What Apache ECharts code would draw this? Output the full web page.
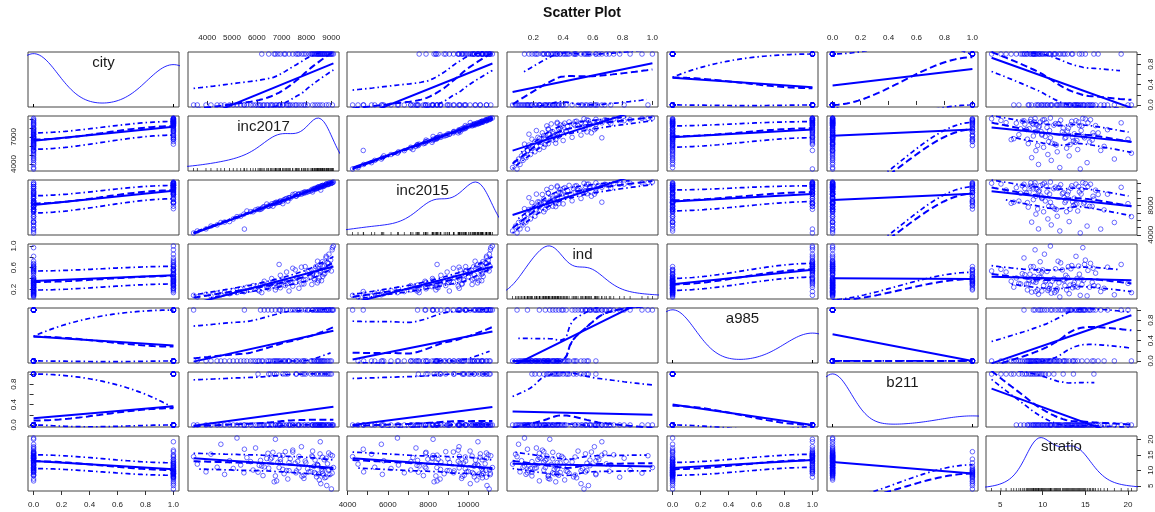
<!DOCTYPE html>
<html><head><meta charset="utf-8">
<script src="https://cdn.jsdelivr.net/npm/echarts@6/dist/echarts.min.js"></script>
<style>html,body{margin:0;padding:0;background:#fff}#c{width:1155px;height:512px}</style>
</head><body><div id="c"></div>
<script>
// ---------------- data (one entry per observation) ----------------
const city = [1,1,1,1,1,1,1,1,1,1,1,1,1,1,
  0,0,0,0,0,0,0,0,0,0,0,0,0,0,0,0,0,0,0,0,0,0,0,0,0,0,
  1,1,1,1,1,1,1,1,1,1,1,1,1,1,1,1,1,
  0,0,0,0,0,0,0,
  1,1,1,1,1,1,1,1,1,1,1,1,1,1,1,
  0,0,0,0,0,0,0,0,0,0,0,0,0,0,0,0,0,0,0,0,0];
const inc2017 = [7650,8100,8250,8380,8470,8560,8640,8720,8790,8850,8910,8980,9040,9090,
  3450,5500,6150,6300,6450,6600,6750,6950,7050,7200,7350,7450,7550,7700,7800,7950,8050,6900,8250,8350,8450,8550,8650,8800,8900,9050,
  6480,7150,7580,7820,7980,6700,8180,8300,8410,8490,8580,8660,8740,8820,8880,8950,9010,
  6050,6550,6800,7050,7250,7600,7900,
  6200,6750,6950,7300,7450,7700,7900,6850,7100,8220,8330,8440,8520,8610,8700,
  3600,3950,4150,4400,4550,4700,4900,5050,5200,5350,5480,5600,5750,5850,5950,6100,6250,6400,6650,6900,7300];
const inc2015 = [9500,9920,9850,10270,10510,10480,10720,10690,10900,10840,11050,10990,11100,11200,
  4250,4780,7480,7850,7880,8220,8250,8640,8250,8950,8990,9260,9600,9560,9540,9870,9850,8450,10090,10360,10340,10600,10590,10910,10900,11120,
  7900,8880,9270,9700,9760,8300,10010,10290,10300,10530,10100,10740,10700,10930,10880,11090,11040,
  7520,7990,8450,8620,8600,9300,9800,
  7560,8390,8500,9060,9500,9550,9670,8400,8800,10190,10200,10460,10430,10670,10650,
  4520,4800,5190,5350,5680,5730,5800,6160,6480,6530,6820,7250,7150,7140,7400,7450,7770,8200,7900,8440,9070];
const ind = [0.42,0.55,0.48,0.62,0.58,0.66,0.71,0.64,0.78,0.69,0.85,0.74,0.93,1.00,
  0.09,0.16,0.28,0.35,0.24,0.40,0.31,0.46,0.37,0.52,0.33,0.59,0.56,0.39,0.61,0.62,0.53,0.66,0.50,0.58,0.72,0.55,0.63,0.81,0.68,0.97,
  0.21,0.27,0.33,0.30,0.38,0.35,0.43,0.40,0.47,0.36,0.52,0.44,0.49,0.57,0.56,0.62,0.54,
  0.19,0.29,0.24,0.34,0.31,0.42,0.37,
  0.14,0.19,0.23,0.17,0.26,0.22,0.30,0.27,0.34,0.29,0.38,0.32,0.41,0.36,0.48,
  0.06,0.11,0.08,0.13,0.10,0.15,0.12,0.18,0.14,0.21,0.16,0.24,0.19,0.27,0.22,0.17,0.30,0.25,0.33,0.28,0.36];
const a985 = [1,1,1,1,1,1,1,1,1,1,1,1,1,1,
  1,1,1,1,1,1,1,1,1,1,1,1,1,1,1,1,1,1,1,1,1,1,1,1,1,1,
  0,0,0,0,0,0,0,0,0,0,0,0,0,0,0,0,0,
  0,0,0,0,0,0,0,
  0,0,0,0,0,0,0,0,0,0,0,0,0,0,0,
  0,0,0,0,0,0,0,0,0,0,0,0,0,0,0,0,0,0,0,0,0];
const b211 = [0,0,0,0,0,0,0,0,0,0,0,0,0,0,
  0,0,0,0,0,0,0,0,0,0,0,0,0,0,0,0,0,0,0,0,0,0,0,0,0,0,
  1,1,1,1,1,1,1,1,1,1,1,1,1,1,1,1,1,
  1,1,1,1,1,1,1,
  0,0,0,0,0,0,0,0,0,0,0,0,0,0,0,
  0,0,0,0,0,0,0,0,0,0,0,0,0,0,0,0,0,0,0,0,0];
const stratio = [12.9,9.5,14.3,8.9,11.5,19.2,9.7,13.4,7.8,12.1,10.2,15.0,9.1,10.9,
  14.4,16.8,13.2,11.1,15.5,14.0,20.0,12.7,14.8,9.9,13.7,15.9,12.3,14.5,17.6,13.0,10.5,14.9,16.2,13.3,11.8,15.3,14.2,13.9,15.6,14.7,
  10.7,16.0,9.2,8.1,12.4,6.3,9.6,11.3,7.9,8.8,5.7,9.0,7.6,5.1,10.0,8.6,4.0,
  9.4,13.6,6.6,10.3,7.2,9.8,8.4,
  11.4,8.2,13.5,9.9,16.5,10.8,7.4,12.6,8.9,14.6,9.3,11.9,6.9,10.4,8.5,
  12.0,9.5,15.2,11.0,18.4,8.7,13.1,10.6,20.4,11.7,9.2,14.1,12.8,10.1,17.2,11.6,8.3,13.8,15.8,10.9,12.5];

const varNames = ['city','inc2017','inc2015','ind','a985','b211','stratio'];
// tick marks and tick labels (horizontal axes / vertical axes)
const ticksCity = [0,0.2,0.4,0.6,0.8,1.0];
const ticksInc2017 = [4000,5000,6000,7000,8000,9000];
const ticksInc2015 = [4000,5000,6000,7000,8000,9000,10000,11000];
const ticksInd = [0.2,0.4,0.6,0.8,1.0];
const ticksStratio = [5,10,15,20];
const hLabInc2015 = [4000,6000,8000,10000];
const vLabBinary = [0,0.4,0.8];
const vLabInc2017 = [4000,7000];
const vLabInc2015 = [4000,8000];
const vLabInd = [0.2,0.6,1.0];

const vars = [city, inc2017, inc2015, ind, a985, b211, stratio];
const ticks = [ticksCity, ticksInc2017, ticksInc2015, ticksInd, ticksCity, ticksCity, ticksStratio];
const hLabels = [ticksCity, ticksInc2017, hLabInc2015, ticksInd, ticksCity, ticksCity, ticksStratio];
const vLabels = [vLabBinary, vLabInc2017, vLabInc2015, vLabInd, vLabBinary, vLabBinary, ticksStratio];
const decimals = [1,0,0,1,1,1,0];

// ---------------- statistics helpers ----------------
function median(a){const s=a.slice().sort((p,q)=>p-q);const n=s.length;return n%2?s[(n-1)/2]:(s[n/2-1]+s[n/2])/2;}
function bisq(res){
  const cmad=6*median(res.map(Math.abs));
  if(cmad<1e-300) return res.map(()=>1);
  return res.map(r=>{const a=Math.abs(r);if(a>0.999*cmad)return 0;if(a>0.001*cmad){const u=r/cmad;return (1-u*u)*(1-u*u);}return 1;});
}
function localFit(x0,xs,ys,rw,span,degree){
  const n=xs.length;const q=Math.max(1,Math.min(n,Math.floor(n*span)));
  const d=xs.map(x=>Math.abs(x-x0));
  const h=d.slice().sort((a,b)=>a-b)[q-1];
  if(!(h>0)) return [0,0];
  let sw=0,sx=0,sy=0;const w=new Array(n);
  for(let k=0;k<n;k++){const u=d[k]/h;const t=u<1?(1-u*u*u):0;w[k]=rw[k]*t*t*t;sw+=w[k];sx+=w[k]*xs[k];sy+=w[k]*ys[k];}
  if(!(sw>0)) return [0,0];
  const mx=sx/sw,my=sy/sw;
  if(degree===0) return [my,0];
  let sxx=0,sxy=0;
  for(let k=0;k<n;k++){const dx=xs[k]-mx;sxx+=w[k]*dx*dx;sxy+=w[k]*dx*(ys[k]-my);}
  if(sxx<=1e-10*sw*h*h) return [my,0];
  const b=sxy/sxx;return [my+b*(x0-mx),b];
}
function makeSurface(xs,ys,rw,span,degree){
  const mn=Math.min(...xs),mx=Math.max(...xs);
  const uniq=new Set(xs).size;
  const mu=0.005*Math.max(mx-mn,1e-10*Math.max(Math.abs(mn),Math.abs(mx))+1e-30);
  const v0=mn-mu,v1=mx+mu;
  if(uniq<=2){
    const A=localFit(v0,xs,ys,rw,span,degree),B=localFit(v1,xs,ys,rw,span,degree);
    const L=v1-v0;
    return x=>{if(x<v0-1e-12||x>v1+1e-12)return NaN;const t=(x-v0)/L,t2=t*t,t3=t2*t;
      return (2*t3-3*t2+1)*A[0]+(t3-2*t2+t)*L*A[1]+(-2*t3+3*t2)*B[0]+(t3-t2)*L*B[1];};
  }
  return x=>(x<v0||x>v1)?NaN:localFit(x,xs,ys,rw,span,degree)[0];
}
function loessFull(xs,ys,span,degree,iters){
  let rw=xs.map(()=>1),surf,res;
  for(let it=0;it<iters;it++){
    surf=makeSurface(xs,ys,rw,span,degree);
    res=ys.map((y,k)=>y-surf(xs[k]));
    if(it<iters-1) rw=bisq(res);
  }
  return {surf,res};
}
function lmFit(xs,ys){
  const n=xs.length;const mx=xs.reduce((a,b)=>a+b,0)/n,my=ys.reduce((a,b)=>a+b,0)/n;
  let sxx=0,sxy=0;for(let k=0;k<n;k++){sxx+=(xs[k]-mx)**2;sxy+=(xs[k]-mx)*(ys[k]-my);}
  const b=sxy/sxx;return [my-b*mx,b];
}
function quantile(x,p){const s=x.slice().sort((a,b)=>a-b);const h=(s.length-1)*p;const l=Math.floor(h);return l+1<s.length?s[l]+(h-l)*(s[l+1]-s[l]):s[l];}
function bwNrd0(x){
  const n=x.length;const m=x.reduce((a,b)=>a+b,0)/n;
  const sd=Math.sqrt(x.reduce((a,b)=>a+(b-m)**2,0)/(n-1));
  let lo=Math.min(sd,(quantile(x,0.75)-quantile(x,0.25))/1.34);
  if(!(lo>0)) lo=sd||Math.abs(x[0])||1;
  return 0.9*lo*Math.pow(n,-0.2);
}
const phi=u=>Math.exp(-0.5*u*u)/Math.sqrt(2*Math.PI);
function adaptiveDensity(x){
  const n=x.length,bw=bwNrd0(x);
  const mn=Math.min(...x),mx=Math.max(...x);
  const from=mn-3*bw,to=mx+3*bw,N=500;
  const x0=[];for(let i=0;i<N;i++)x0.push(from+(to-from)*i/(N-1));
  const pilot=t=>{let s=0;for(const xi of x)s+=phi((t-xi)/bw);return s/(n*bw);};
  const f=x.map(pilot);
  const g=Math.exp(f.reduce((a,b)=>a+Math.log(b),0)/n);
  const lam=f.map(fi=>Math.sqrt(g/fi));
  const y=x0.map(t=>{let s=0;for(let i=0;i<n;i++)s+=phi((t-x[i])/(bw*lam[i]))/lam[i];return s/(n*bw);});
  const ymin=Math.min(...y),ymax=Math.max(...y);
  return x0.map((t,i)=>[t,mn+y[i]*(mx-mn)/(ymax-ymin)]);
}

// ---------------- layout ----------------
const FONT='"Liberation Sans", Arial, sans-serif';
const BLUE='#0000ff';
const L0=28,CP=159.7,CW=151,T0=52,RP=64,RH=55;
const lo=[],hi=[];
vars.forEach(v=>{const mn=Math.min(...v),mx=Math.max(...v),r=mx-mn;lo.push(mn-0.04*r);hi.push(mx+0.04*r);});

function mkAxis(v,k,show,pos,isY){
  return {type:'value',gridIndex:k,min:lo[v],max:hi[v],position:pos,
    axisLine:{show:false},splitLine:{show:false},splitArea:{show:false},
    axisTick:{show:show,inside:false,length:4,lineStyle:{color:'#333',width:1},customValues:ticks[v]},
    axisLabel:{show:show,customValues:isY?vLabels[v]:hLabels[v],formatter:val=>Number(val).toFixed(decimals[v]),
      fontSize:8,color:'#222',fontFamily:FONT,margin:10,rotate:isY?90:0}};
}

const option={animation:false,backgroundColor:'#fff',grid:[],xAxis:[],yAxis:[],series:[],graphic:[]};
option.graphic.push({type:'text',style:{text:'Scatter Plot',x:582,y:13,align:'center',verticalAlign:'middle',font:'bold 14px '+FONT,fill:'#111'}});

const dashDot=[1.5,3,5,3];
for(let i=0;i<7;i++){
  for(let j=0;j<7;j++){
    const k=i*7+j;
    const left=Math.round(L0+j*CP),top=T0+i*RP;
    option.grid.push({left:left,top:top,width:CW,height:RH,show:true,borderColor:'#444',borderWidth:1,backgroundColor:'transparent',containLabel:false,outerBoundsMode:'none'});
    const showTop=(i===0&&j%2===1),showBot=(i===6&&j%2===0);
    option.xAxis.push(mkAxis(j,k,showTop||showBot,showTop?'top':'bottom',false));
    const showL=(j===0&&i%2===1),showR=(j===6&&i%2===0);
    option.yAxis.push(mkAxis(i,k,showL||showR,showR?'right':'left',true));
    const xs=vars[j],ys=vars[i];
    if(i===j){
      option.series.push({type:'line',xAxisIndex:k,yAxisIndex:k,data:adaptiveDensity(xs),showSymbol:false,symbol:'none',
        lineStyle:{color:BLUE,width:1,opacity:0.85},clip:true,silent:true});
      option.series.push({type:'scatter',xAxisIndex:k,yAxisIndex:k,data:xs.map(x=>[x,lo[i]]),symbol:'rect',symbolSize:[0.8,3],
        symbolOffset:[0,-1.5],itemStyle:{color:'#000'},clip:false,silent:true});
      option.graphic.push({type:'text',style:{text:varNames[i],x:left+CW/2,y:top+10.5,align:'center',verticalAlign:'middle',font:'15px '+FONT,fill:'#1a1a1a'},z:100});
    }else{
      option.series.push({type:'scatter',xAxisIndex:k,yAxisIndex:k,data:xs.map((x,n)=>[x,ys[n]]),symbol:'circle',symbolSize:4.6,
        itemStyle:{color:'rgba(0,0,0,0)',borderColor:'rgba(0,0,255,0.8)',borderWidth:0.9},silent:true});
      const mn=Math.min(...xs),mx=Math.max(...xs);
      const [a,b]=lmFit(xs,ys);
      option.series.push({type:'line',xAxisIndex:k,yAxisIndex:k,data:[[mn,a+b*mn],[mx,a+b*mx]],showSymbol:false,symbol:'none',
        lineStyle:{color:BLUE,width:2},clip:true,silent:true});
      const fit=loessFull(xs,ys,2/3,1,4);
      const xe=[];for(let t=0;t<50;t++)xe.push(mn+(mx-mn)*t/49);
      const posI=[],negI=[];fit.res.forEach((r,n)=>{(r>0?posI:negI).push(n);});
      const sub=(I)=>I.length>=2?loessFull(I.map(n=>xs[n]),I.map(n=>fit.res[n]*fit.res[n]),2/3,0,4).surf:(x=>NaN);
      const pf=sub(posI),nf=sub(negI);
      const clean=v=>Number.isFinite(v)?v:'-';
      const yf=xe.map(x=>fit.surf(x));
      option.series.push({type:'line',xAxisIndex:k,yAxisIndex:k,data:xe.map((x,t)=>[x,clean(yf[t])]),showSymbol:false,symbol:'none',
        lineStyle:{color:BLUE,width:2,type:[7,3.5]},clip:true,silent:true});
      option.series.push({type:'line',xAxisIndex:k,yAxisIndex:k,data:xe.map((x,t)=>[x,clean(yf[t]+Math.sqrt(pf(x)))]),showSymbol:false,symbol:'none',
        lineStyle:{color:BLUE,width:1.7,type:dashDot},clip:true,silent:true});
      option.series.push({type:'line',xAxisIndex:k,yAxisIndex:k,data:xe.map((x,t)=>[x,clean(yf[t]-Math.sqrt(nf(x)))]),showSymbol:false,symbol:'none',
        lineStyle:{color:BLUE,width:1.7,type:dashDot},clip:true,silent:true});
    }
  }
}
const chart=echarts.init(document.getElementById('c'),null,{renderer:'canvas'});
chart.setOption(option);
</script></body></html>
